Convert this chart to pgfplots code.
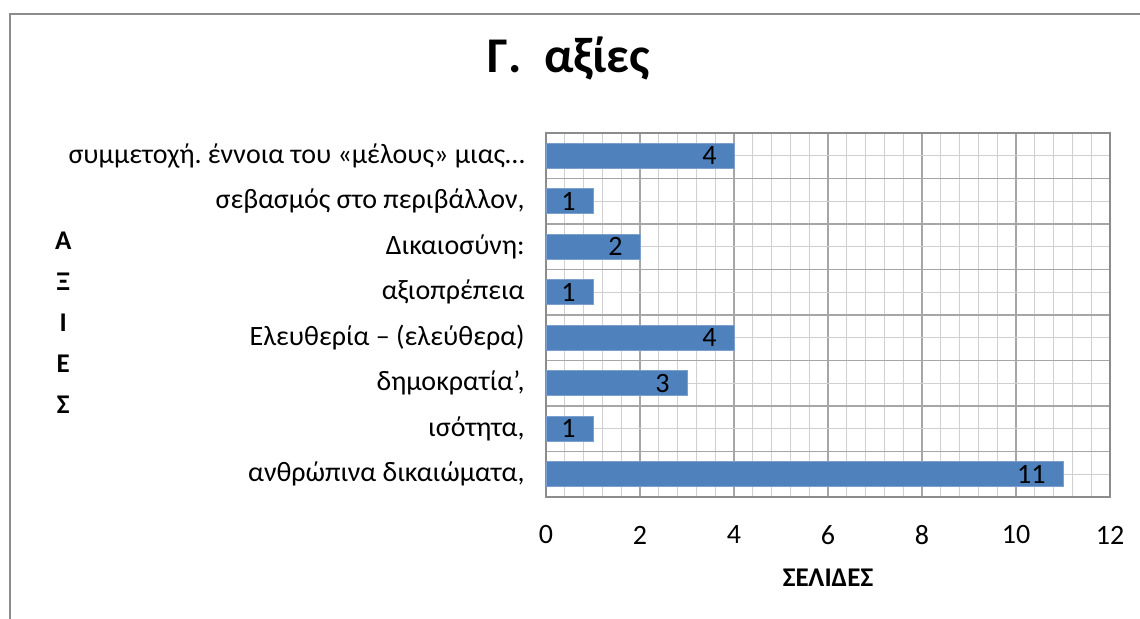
\documentclass[border=0pt]{standalone}
\usepackage{fontspec}
\setmainfont{Carlito}
\usepackage{pgfplots}
\pgfplotsset{compat=1.18}
\definecolor{barblue}{HTML}{4F81BD}
\definecolor{griddark}{HTML}{A6A6A6}
\definecolor{gridlight}{HTML}{D0D0D0}
\frenchspacing
\begin{document}
\begin{tikzpicture}
\useasboundingbox (0,0) rectangle (570pt,309pt);
\draw[color=black!45, line width=1pt] (5pt,302pt) rectangle (620pt,-30pt);
\node[font=\bfseries\fontsize{25}{30}\selectfont, anchor=base] at (284.5pt,273pt) {Γ.\ \ αξίες};
\begin{axis}[
 at={(273pt,60.5pt)}, anchor=south west,
 scale only axis, width=282pt, height=182pt,
 xbar, bar width=12.5pt,
 xmin=0, xmax=12, ymin=-0.5, ymax=7.5,
 xtick={0,2,...,12}, minor x tick num=4,
 ytick={0,...,7},
 yticklabels={{ανθρώπινα δικαιώματα,},{ισότητα,\ },{δημοκρατία’,},{Ελευθερία – (ελεύθερα)},{αξιοπρέπεια\ },{Δικαιοσύνη:\ },{σεβασμός στο περιβάλλον,},{συμμετοχή. έννοια του «μέλους» μιας…}},
 minor ytick={-0.5,0.5,...,7.5},
 xmajorgrids, xminorgrids, ymajorgrids, yminorgrids,
 major x grid style={griddark, line width=0.6pt},
 minor x grid style={gridlight, line width=0.6pt},
 major y grid style={gridlight, line width=0.6pt},
 minor y grid style={griddark, line width=0.6pt},
 major tick length=0pt, minor tick length=0pt,
 axis line style={black!45, line width=0.6pt},
 tick label style={font=\fontsize{14}{16}\selectfont, text=black},
 /pgf/number format/assume math mode=true,
 xticklabel style={anchor=center, yshift=-19pt},
 yticklabel style={anchor=east, inner sep=0pt, xshift=-10.5pt},
 xlabel={ΣΕΛΙΔΕΣ},
 xlabel style={at={(axis description cs:0.5,0)}, anchor=center, yshift=-40.5pt, font=\bfseries\fontsize{13.5}{16}\selectfont},
 ylabel={Α\\Ξ\\Ι\\Ε\\Σ},
 ylabel style={at={(axis description cs:-0.856,0.48)}, anchor=center, rotate=-90, align=center, font=\bfseries\fontsize{13.5}{20.5}\selectfont},
 nodes near coords,
 every node near coord/.append style={anchor=east, inner sep=0pt, xshift=-8.5pt, font=\fontsize{14}{16}\selectfont, text=black},
]
\addplot[fill=barblue, draw=barblue!75!white, line width=0.4pt] coordinates {(11,0) (1,1) (3,2) (4,3) (1,4) (2,5) (1,6) (4,7)};
\end{axis}
\end{tikzpicture}
\end{document}
